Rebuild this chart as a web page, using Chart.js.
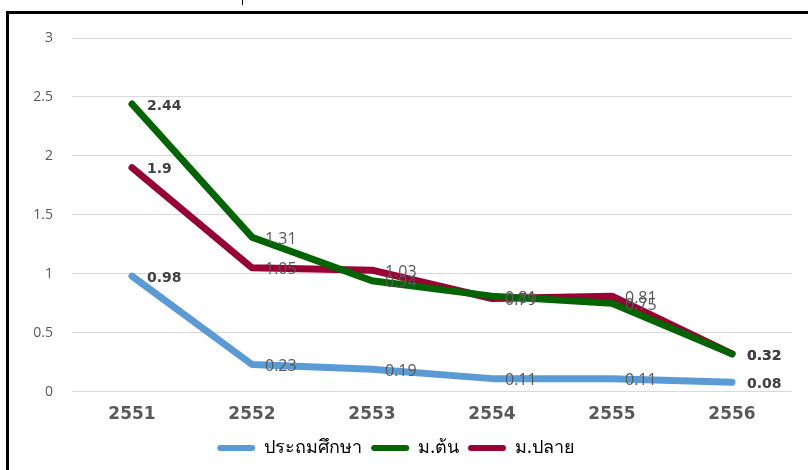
<!DOCTYPE html>
<html>
<head>
<meta charset="utf-8">
<script src="https://cdn.jsdelivr.net/npm/chart.js@4"></script>
<style>
    html, body { margin: 0; padding: 0; background: #fff; overflow: hidden; }
    #wrap { position: relative; width: 808px; height: 470px; }
    #frame {
        position: absolute; left: 6px; top: 11px; width: 820px; height: 480px;
        border: 3px solid #000; box-sizing: border-box; pointer-events: none;
    }
    #mark { position: absolute; left: 242px; top: 0; width: 1px; height: 5px; background: #000; }
</style>
</head>
<body>
<div id="wrap">
    <canvas id="chart" width="808" height="470"></canvas>
    <div id="frame"></div>
    <div id="mark"></div>
</div>
<script>
const years = ["2551", "2552", "2553", "2554", "2555", "2556"];
const yTicks = [0, 0.5, 1, 1.5, 2, 2.5, 3];
const primary = [0.98, 0.23, 0.19, 0.11, 0.11, 0.08];
const lowerSec = [2.44, 1.31, 0.94, 0.81, 0.75, 0.32];
const upperSec = [1.9, 1.05, 1.03, 0.79, 0.81, 0.32];
const seriesNames = ["ประถมศึกษา", "ม.ต้น", "ม.ปลาย"];
const seriesColors = ["#5B9BD5", "#006400", "#990033"];

// labels to the right of each point, first and last are bold
const pointLabels = {
    id: "pointLabels",
    afterDatasetsDraw(chart) {
        const ctx = chart.ctx;
        ctx.save();
        chart.data.datasets.forEach((ds, i) => {
            const meta = chart.getDatasetMeta(i);
            meta.data.forEach((pt, j) => {
                const edge = j === 0 || j === ds.data.length - 1;
                ctx.font = edge ? "bold 14px 'DejaVu Sans'" : "16px 'Open Sans'";
                ctx.fillStyle = edge ? "#404040" : "#595959";
                ctx.textAlign = "left";
                ctx.textBaseline = "middle";
                ctx.fillText(String(ds.data[j]), pt.x + (edge ? 15 : 13), pt.y + 2);
            });
        });
        ctx.restore();
    }
};

new Chart(document.getElementById("chart"), {
    type: "line",
    data: {
        labels: years,
        datasets: [primary, lowerSec, upperSec].map((d, i) => ({
            label: seriesNames[i],
            data: d,
            borderColor: seriesColors[i],
            backgroundColor: seriesColors[i],
            borderWidth: 7,
            borderCapStyle: "round",
            borderJoinStyle: "round",
            pointRadius: 0,
            tension: 0,
            fill: false
        }))
    },
    options: {
        responsive: false,
        animation: false,
        layout: { padding: { top: 38, right: 16, left: 0, bottom: 3 } },
        plugins: {
            legend: {
                position: "bottom",
                labels: {
                    boxWidth: 38,
                    boxHeight: 6,
                    useBorderRadius: true,
                    borderRadius: 3,
                    padding: 9,
                    color: "#595959",
                    font: { family: "'Noto Sans'", size: 18 },
                    generateLabels(chart) {
                        return chart.data.datasets.map((ds, i) => ({
                            text: ds.label,
                            fillStyle: ds.borderColor,
                            strokeStyle: ds.borderColor,
                            lineWidth: 0,
                            borderRadius: 3,
                            datasetIndex: i
                        }));
                    }
                }
            },
            tooltip: { enabled: false }
        },
        scales: {
            x: {
                offset: true,
                grid: { display: false },
                border: { display: false },
                ticks: {
                    color: "#595959",
                    font: { family: "'DejaVu Sans'", size: 17, weight: "bold" },
                    padding: 5
                }
            },
            y: {
                min: 0,
                max: 3,
                afterFit(scale) { scale.width = 72; },
                afterBuildTicks(scale) { scale.ticks = yTicks.map(v => ({ value: v })); },
                grid: { color: "#d9d9d9", drawTicks: false },
                border: { display: false },
                ticks: {
                    color: "#595959",
                    padding: 19,
                    font: { family: "'Open Sans'", size: 14 },
                    callback: v => String(v)
                }
            }
        }
    },
    plugins: [pointLabels]
});
</script>
</body>
</html>
